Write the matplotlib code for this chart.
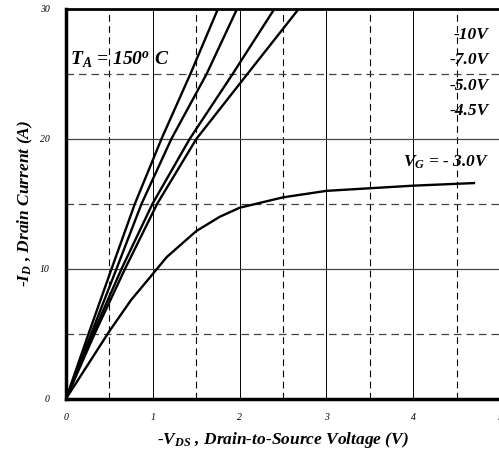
import numpy as np, matplotlib
matplotlib.use("Agg")
import matplotlib.pyplot as plt

plt.rcParams["font.family"] = "Liberation Serif"
plt.rcParams["mathtext.fontset"] = "custom"
plt.rcParams["mathtext.rm"] = "Liberation Serif:bold:italic"
plt.rcParams["mathtext.it"] = "Liberation Serif:bold:italic"
plt.rcParams["mathtext.bf"] = "Liberation Serif:bold:italic"

# curves: -VDS (V), -ID (A)
id_lin = [0, 5, 10, 15, 20, 25, 30]
vds_10 = [0, 0.26, 0.525, 0.793, 1.10, 1.433, 1.75]
vds_7 = [0, 0.29, 0.582, 0.87, 1.214, 1.62, 1.97]
vds_5 = [0, 0.31, 0.64, 0.996, 1.425, 1.92, 2.40]
vds_45 = [0, 0.33, 0.68, 1.05, 1.502, 2.09, 2.68]
vds_3 = [0, 0.5, 0.75, 0.95, 1.16, 1.5, 1.77, 2.0, 2.5, 3.0, 3.5, 4.0, 4.7]
id_3 = [0, 5.2, 7.6, 9.2, 10.9, 12.9, 14.0, 14.7, 15.5, 16.0, 16.2, 16.4, 16.6]

gate_labels = ["-10V", "-7.0V", "-5.0V", "-4.5V"]
label_y = [28.0, 26.05, 24.05, 22.15]

fig = plt.figure(figsize=(4.99, 4.59), dpi=100)
ax = fig.add_axes([66/499, 1 - 398.7/459, 434/499, 389.7/459])

for v in np.arange(0.5, 5, 1.0):
    ax.axvline(v, color="black", lw=0.8, ls=(0, (6, 4)), zorder=1)
for v in [1, 2, 3, 4]:
    ax.axvline(v, color="black", lw=0.7, zorder=1)
for v in [5, 15, 25]:
    ax.axhline(v, color="#444444", lw=0.9, ls=(0, (6, 4)), zorder=1)
for v in [10, 20]:
    ax.axhline(v, color="#444444", lw=0.9, zorder=1)

for x in [vds_10, vds_7, vds_5, vds_45]:
    ax.plot(x, id_lin, color="black", lw=1.7, zorder=3)
ax.plot(vds_3, id_3, color="black", lw=1.7, zorder=3)

ax.set_xlim(0, 5)
ax.set_ylim(0, 30)
ax.set_xticks([0, 1, 2, 3, 4, 5])
ax.set_yticks([0, 10, 20, 30])
ax.tick_params(length=0, labelsize=7)
ax.tick_params(axis="x", pad=10)
ax.tick_params(axis="y", pad=12)
for lab in ax.get_xticklabels() + ax.get_yticklabels():
    lab.set_fontstyle("italic")

for s in ["left", "bottom"]:
    ax.spines[s].set_linewidth(2.5)
ax.spines["top"].set_linewidth(2.0)
ax.spines["right"].set_visible(False)

fnt = dict(fontsize=12.5, fontweight="bold", fontstyle="italic")
ax.set_xlabel(r"-V$_{DS}$ , Drain-to-Source Voltage (V)", labelpad=6, **fnt)
ax.set_ylabel(r"-I$_D$ , Drain Current (A)", labelpad=3, **fnt)

tf = dict(fontsize=12.5, fontweight="bold", fontstyle="italic")
ax.text(0.05, 26.1, r"T$_A$ = 150$^o$ C", ha="left", va="center", fontsize=14,
        fontweight="bold", fontstyle="italic")
for lab, y in zip(gate_labels, label_y):
    ax.text(4.87, y, lab, ha="right", va="center", **tf)
ax.text(4.87, 18.2, r"V$_G$ = - 3.0V", ha="right", va="center", **tf)

fig.savefig("out.png", dpi=100)
